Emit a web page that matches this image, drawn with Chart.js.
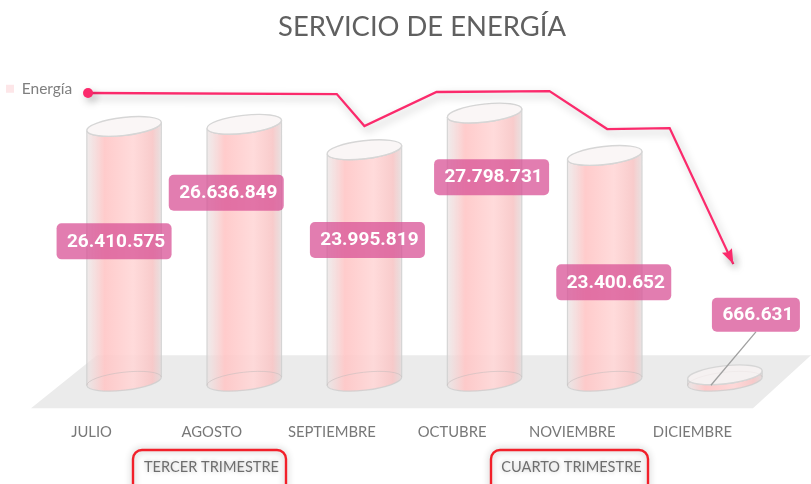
<!DOCTYPE html>
<html><head><meta charset="utf-8">
<style>html,body{margin:0;padding:0;background:#fff}canvas{display:block}</style>
<script src="https://cdn.jsdelivr.net/npm/chart.js@4"></script>
</head><body><canvas id="c" width="811" height="484"></canvas>
<script>
const months = ['JULIO','AGOSTO','SEPTIEMBRE','OCTUBRE','NOVIEMBRE','DICIEMBRE'];
const energia = [26410575,26636849,23995819,27798731,23400652,666631];
const trendX = [-0.30,1.77,2.00,2.60,3.54,4.02,4.54,5.07];
const trendY = [29880000,29770000,26450000,29980000,30080000,26140000,26240000,12140000];
const quarters = ['TERCER TRIMESTRE','CUARTO TRIMESTRE'];

const fmt = v => String(v).replace(/\B(?=(\d{3})+$)/g,'.');
const labelShift = [[-10,-12.5],[-18,-60],[3,-25.5],[7,-70],[9,14],[31,-60]];
const quarterBoxes = [[133,286],[491,648]];

const art = {
  id:'art',
  afterLayout(chart){
    const l = chart.legend;
    l.left=1; l.right=90; l.top=76; l.bottom=100;
    const t = chart.titleBlock;
    t.left -= 2.5; t.right -= 2.5;
  },
  beforeDatasetsDraw(chart){
    const ctx=chart.ctx, y0=chart.scales.y.getPixelForValue(0);
    ctx.save();
    ctx.fillStyle='#ebebeb';
    ctx.beginPath();
    ctx.moveTo(97,y0-26); ctx.lineTo(811,y0-26); ctx.lineTo(753,y0+27); ctx.lineTo(31,y0+27);
    ctx.closePath(); ctx.fill();
    ctx.restore();
  },
  beforeDatasetDraw(chart,args){
    const ctx=chart.ctx;
    if(args.index===0){
      args.meta.data.forEach(b=>cylinder(ctx,b.x,b.y,b.base,b.width));
      return false;
    }
    ctx.save();
    ctx.shadowColor='rgba(0,0,0,.28)'; ctx.shadowBlur=8; ctx.shadowOffsetX=3; ctx.shadowOffsetY=4;
  },
  afterDatasetDraw(chart,args){
    if(args.index!==1) return;
    const ctx=chart.ctx, d=args.meta.data, a=d[d.length-1], p=d[d.length-2];
    const ang=Math.atan2(a.y-p.y,a.x-p.x);
    ctx.translate(a.x,a.y); ctx.rotate(ang);
    ctx.fillStyle='#fb2a6c';
    ctx.beginPath(); ctx.moveTo(0,0); ctx.lineTo(-15,-5.5); ctx.lineTo(-13,0); ctx.lineTo(-15,5.5); ctx.closePath(); ctx.fill();
    ctx.restore();
  },
  afterDatasetsDraw(chart){
    const ctx=chart.ctx, bars=chart.getDatasetMeta(0).data;
    // leader line for the small bar
    const last=bars[5], sh=labelShift[5];
    const lx=last.x+sh[0], ly=last.y+sh[1];
    ctx.save();
    ctx.strokeStyle='#a0a0a0'; ctx.lineWidth=1.3;
    ctx.beginPath(); ctx.moveTo(lx,ly+17); ctx.lineTo(last.x-14,last.base+4); ctx.stroke();
    ctx.font='bold 19px Roboto';
    ctx.textAlign='center'; ctx.textBaseline='middle';
    bars.forEach((b,i)=>{
      const s=labelShift[i], x=b.x+s[0], y=(i===5?b.y:(b.y+b.base)/2)+s[1];
      const txt=fmt(energia[i]), w=i===5?88:115, h=i===5?34:36;
      ctx.fillStyle='rgba(216,82,150,.75)';
      ctx.beginPath(); ctx.roundRect(x-w/2,y-h/2,w,h,5); ctx.fill();
      ctx.fillStyle='#fff'; ctx.fillText(txt,x+2,y+0.5);
    });
    // quarter callouts
    ctx.font='14.6px Lato';
    quarters.forEach((q,i)=>{
      const [a,b]=quarterBoxes[i];
      ctx.save();
      ctx.shadowColor='rgba(0,0,0,.3)'; ctx.shadowBlur=7;
      ctx.strokeStyle='#f2202a'; ctx.lineWidth=2.4;
      ctx.beginPath(); ctx.roundRect(a,450,b-a,50,9); ctx.stroke();
      ctx.shadowBlur=5; ctx.shadowColor='rgba(0,0,0,.25)';
      ctx.fillStyle='#6e6e6e'; ctx.fillText(q,(a+b)/2+2,467);
      ctx.restore();
    });
    ctx.restore();
  }
};
function cylinder(ctx,x,yT,yB,w){
  const rx=w/2, ry=9, rot=-6.5*Math.PI/180;
  const g=ctx.createLinearGradient(x-rx,0,x+rx,0);
  g.addColorStop(0,'rgba(228,222,222,.6)');
  g.addColorStop(.05,'rgba(238,222,222,.75)');
  g.addColorStop(.24,'rgba(255,198,198,.9)');
  g.addColorStop(.62,'rgba(255,215,215,.9)');
  g.addColorStop(.88,'rgba(248,198,198,.9)');
  g.addColorStop(.97,'rgba(230,208,208,.75)');
  g.addColorStop(1,'rgba(222,216,216,.6)');
  ctx.save();
  ctx.beginPath();
  ctx.ellipse(x,yB,rx,ry,rot,0,Math.PI);
  ctx.ellipse(x,yT,rx,ry,rot,Math.PI,0,true);
  ctx.closePath();
  ctx.fillStyle=g; ctx.fill();
  ctx.strokeStyle='rgba(205,205,205,.8)'; ctx.lineWidth=1.2; ctx.stroke();
  ctx.beginPath(); ctx.ellipse(x,yB,rx,ry,rot,Math.PI,2*Math.PI);
  ctx.strokeStyle='rgba(200,190,190,.6)'; ctx.lineWidth=1; ctx.stroke();
  ctx.beginPath(); ctx.ellipse(x,yT,rx,ry,rot,0,2*Math.PI);
  ctx.fillStyle='rgba(248,243,243,.75)'; ctx.fill();
  ctx.strokeStyle='#d6d6d6'; ctx.lineWidth=1.4; ctx.stroke();
  ctx.restore();
}

new Chart(document.getElementById('c'),{
  data:{labels:months,datasets:[
    {type:'bar',label:'Energía',data:energia,barThickness:75,grouped:false,backgroundColor:'#fde6e8',order:2},
    {type:'scatter',label:'Tendencia',xAxisID:'x2',showLine:true,clip:false,
     data:trendX.map((x,i)=>({x,y:trendY[i]})),borderColor:'#fb2a6c',backgroundColor:'#fb2a6c',borderWidth:2.3,
     pointRadius:trendX.map((_,i)=>i===0?5:0),pointBorderWidth:0,order:1}
  ]},
  options:{
    responsive:false,animation:false,
    layout:{padding:{left:64,right:26,top:0,bottom:9}},
    scales:{
      x:{offset:true,grid:{display:false},border:{display:false},
         ticks:{padding:34,labelOffset:-32.5,color:'#787878',font:{family:'Lato',size:14.8},maxRotation:0,autoSkip:false}},
      x2:{type:'linear',display:false,min:-0.5,max:5.5},
      y:{display:false,min:0,max:31000000}
    },
    plugins:{
      title:{display:true,text:'SERVICIO DE ENERGÍA',color:'#606060',font:{family:'Lato',size:27.4,weight:'normal'},padding:{top:11,bottom:38.3},fullSize:false},
      legend:{position:'chartArea',align:'start',
        labels:{boxWidth:8,boxHeight:8,padding:5,color:'#7f7f7f',font:{family:'Lato',size:15.5},filter:i=>i.datasetIndex===0}},
      tooltip:{enabled:false}
    }
  },
  plugins:[art]
});
</script></body></html>
